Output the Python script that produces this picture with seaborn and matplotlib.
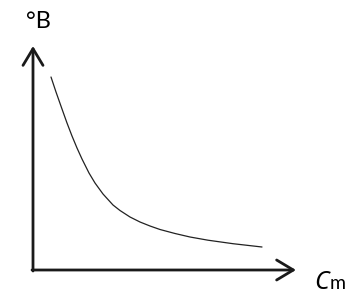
import matplotlib
matplotlib.use("Agg")
import matplotlib.pyplot as plt
import seaborn as sns
import pandas as pd

# Values (arbitrary units, origin at the axes corner)
cm_values = [18, 23, 29, 34, 39, 44, 49, 56, 62, 70, 80, 87, 97, 107, 117, 127, 142, 157, 175, 200, 229]
b_values = [193, 178, 161, 147, 134, 122, 111, 97, 87, 76, 65, 59.5, 53, 48, 44, 40.5, 36.5, 33, 29.8, 26.3, 23]
x_label = "C"
x_sub = "m"
y_label = "°B"

sns.set_theme(style="white")
plt.rcParams['font.family'] = ['Lato', 'DejaVu Sans']

df = pd.DataFrame({"Cm": cm_values, "B": b_values})

fig = plt.figure(figsize=(3.6, 3.01), dpi=100)
ax = fig.add_axes([0, 0, 1, 1])
sns.lineplot(data=df, x="Cm", y="B", ax=ax, color="#222222", linewidth=0.9)

ax.set_xlim(-33, 327)
ax.set_ylim(-31, 270)
for s in ax.spines.values():
    s.set_visible(False)
ax.set_xticks([])
ax.set_yticks([])
ax.set_xlabel("")
ax.set_ylabel("")

arrow_kw = dict(arrowstyle="->,head_length=1.0,head_width=0.6", color="#1a1a1a", lw=2.0,
                shrinkA=0, shrinkB=0)
ax.annotate("", xy=(0, 224), xytext=(0, -1), arrowprops=arrow_kw)
ax.annotate("", xy=(263, 0), xytext=(-1, 0), arrowprops=arrow_kw)

ax.text(-7, 270 - 28, y_label, fontsize=17, ha="left", va="baseline", color="black")
ax.text(281, 270 - 289, x_label, fontsize=18, style="italic", ha="left", va="baseline",
        color="black", family=["Noto Sans", "DejaVu Sans"])
ax.text(297, 270 - 289, x_sub, fontsize=14, ha="left", va="baseline", color="black")

fig.savefig("out.png", dpi=100)
